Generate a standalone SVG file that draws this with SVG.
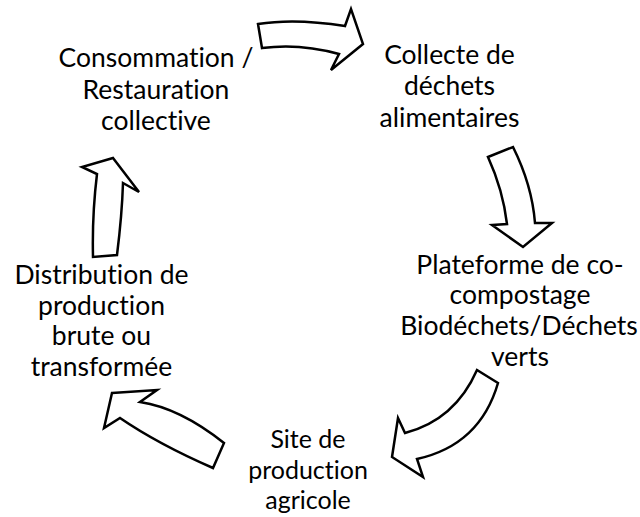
<svg xmlns="http://www.w3.org/2000/svg" width="640" height="517" viewBox="0 0 640 517">
<style>
.lbl{font-family:Lato,"Open Sans","Liberation Sans",sans-serif;font-size:26.5px;fill:#000;text-anchor:middle;font-variant-ligatures:none}
.sm{font-size:25px}
.arr{fill:#fff;stroke:#000;stroke-width:2.5;stroke-linejoin:miter}
</style>
<rect width="640" height="517" fill="#fff"/>
<g id="connectors">
<path class="arr" d="M258,24 Q295,18 345,26 L351,9 L363,44 L331,70 L339,54 Q300,43 262,48 Z"/>
<path class="arr" d="M488,157 L513,147 Q532,185 535,223 L552,223 L523,247 L492,225 L507,224 Q503,190 488,157 Z"/>
<path class="arr" d="M477,370 L498,383 Q480,445 417,459 L423,477 L392,457 L398,418 L405,433 Q455,420 477,370 Z"/>
<path class="arr" d="M112,393 L157,390 L140,402 Q180,408 224,443 L213,468 Q158,444 120,418 L104,428 Z"/>
<path class="arr" d="M113,158 L139,192 L123,183 Q122,215 117,255 L93,257 Q92,215 97,174 L82,167 Z"/>
</g>
<g id="node-consommation">
<text class="lbl" x="156" y="67">Consommation /</text>
<text class="lbl" x="156" y="98.5">Restauration</text>
<text class="lbl" x="156" y="130">collective</text>
</g>
<g id="node-collecte">
<text class="lbl" x="449.5" y="63.5">Collecte de</text>
<text class="lbl" x="449.5" y="95">déchets</text>
<text class="lbl" x="449.5" y="126.5">alimentaires</text>
</g>
<g id="node-plateforme">
<text class="lbl" x="520" y="273.5">Plateforme de co-</text>
<text class="lbl" x="520" y="304">compostage</text>
<text class="lbl" x="519" y="335">Biodéchets/Déchets</text>
<text class="lbl" x="520" y="366">verts</text>
</g>
<g id="node-site">
<text class="lbl sm" x="308" y="448">Site de</text>
<text class="lbl sm" x="308" y="478.5">production</text>
<text class="lbl sm" x="308" y="509">agricole</text>
</g>
<g id="node-distribution">
<text class="lbl" x="101.5" y="283.5">Distribution de</text>
<text class="lbl" x="101.5" y="314.5">production</text>
<text class="lbl" x="101.5" y="345">brute ou</text>
<text class="lbl" x="101.5" y="376">transformée</text>
</g>
</svg>
